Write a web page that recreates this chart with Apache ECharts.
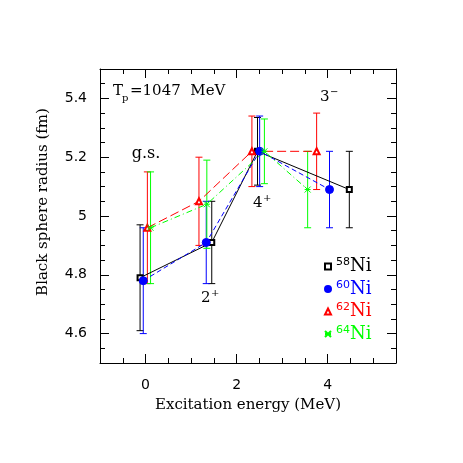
<!DOCTYPE html>
<html>
<head>
<meta charset="utf-8">
<script src="https://cdn.jsdelivr.net/npm/echarts@6/dist/echarts.min.js"></script>
<style>html,body{margin:0;padding:0;background:#fff}#c{width:463px;height:463px}</style>
</head>
<body>
<div id="c"></div>
<script>
// ---- data ----
const isotopes = ['58', '60', '62', '64'];
const states = ['g.s.', '2+', '4+', '3-'];
const ex58 = [-0.12, 1.454, 2.459, 4.475];
const r58  = [4.79, 4.91, 5.22, 5.09];
const e58  = [0.18, 0.14, 0.115, 0.13];
const ex60 = [-0.05, 1.333, 2.506, 4.040];
const r60  = [4.78, 4.91, 5.22, 5.09];
const e60  = [0.18, 0.14, 0.12, 0.13];
const ex62 = [0.04, 1.173, 2.336, 3.757];
const r62  = [4.96, 5.05, 5.22, 5.22];
const e62  = [0.19, 0.15, 0.12, 0.13];
const ex64 = [0.11, 1.346, 2.610, 3.560];
const r64  = [4.96, 5.04, 5.22, 5.09];
const e64  = [0.19, 0.15, 0.11, 0.13];
const xTickLabels = [0, 2, 4];
const yTickLabels = [4.6, 4.8, 5.0, 5.2, 5.4];

const serif = '"DejaVu Serif", serif';
const sans = '"DejaVu Sans", sans-serif';
const colors = ['#000000', '#0000ff', '#ff0000', '#00ff00'];
const exs = [ex58, ex60, ex62, ex64];
const rs = [r58, r60, r62, r64];
const es = [e58, e60, e62, e64];
const symbols = ['emptyRect', 'circle', 'emptyTriangle', 'path://M0,0L10,10M0,10L10,0M0,5L10,5'];
const symSizes = [5, 8, 6, 6];
const dashes = ['solid', [5, 3], [9, 4], [6, 3, 1, 3]];

const chart = echarts.init(document.getElementById('c'), null, {renderer: 'canvas'});

function xAxisDef(pos, major) {
  return {
    type: 'value', position: pos, min: -1, max: 5.5, interval: 0.5,
    axisLine: {show: !major, onZero: false, lineStyle: {color: '#000', width: 1}},
    axisTick: major ? {show: true, inside: true, length: 9, customValues: xTickLabels, lineStyle: {color: '#000'}}
                    : {show: true, inside: true, length: 5, lineStyle: {color: '#000'}},
    axisLabel: (pos === 'bottom' && !major) ? {show: true, customValues: xTickLabels, margin: 15, color: '#000', fontFamily: sans, fontSize: 14} : {show: false},
    splitLine: {show: false}
  };
}
function yAxisDef(pos, major) {
  return {
    type: 'value', position: pos, min: 4.5, max: 5.5, interval: 0.05,
    axisLine: {show: !major, onZero: false, lineStyle: {color: '#000', width: 1}},
    axisTick: major ? {show: true, inside: true, length: 9, customValues: yTickLabels, lineStyle: {color: '#000'}}
                    : {show: true, inside: true, length: 5, lineStyle: {color: '#000'}},
    axisLabel: (pos === 'left' && !major) ? {show: true, customValues: yTickLabels, margin: 13, color: '#000', fontFamily: sans, fontSize: 14,
                formatter: v => String(+(+v).toFixed(2))} : {show: false},
    splitLine: {show: false}
  };
}

const series = [];
isotopes.forEach((iso, i) => {
  const errData = exs[i].map((x, k) => [x, rs[i][k] - es[i][k], rs[i][k] + es[i][k]]);
  series.push({
    type: 'custom', name: iso + 'Ni_err', z: 2, silent: true,
    data: errData, encode: {x: 0, y: [1, 2]},
    renderItem: (params, api) => {
      const x = api.value(0), lo = api.value(1), hi = api.value(2);
      const pt = api.coord([x, hi]), pb = api.coord([x, lo]);
      const w = 3.5;
      const st = {stroke: colors[i], lineWidth: 1, fill: null};
      return {type: 'group', children: [
        {type: 'line', shape: {x1: pt[0], y1: pt[1], x2: pb[0], y2: pb[1]}, style: st},
        {type: 'line', shape: {x1: pt[0] - w, y1: pt[1], x2: pt[0] + w, y2: pt[1]}, style: st},
        {type: 'line', shape: {x1: pb[0] - w, y1: pb[1], x2: pb[0] + w, y2: pb[1]}, style: st}
      ]};
    }
  });
  series.push({
    type: 'line', name: iso + 'Ni', z: 3,
    data: exs[i].map((x, k) => [x, rs[i][k]]),
    symbol: symbols[i], symbolSize: symSizes[i], showAllSymbol: true,
    lineStyle: {color: colors[i], width: 1, type: dashes[i]},
    itemStyle: {color: colors[i], borderColor: colors[i], borderWidth: 1},
    emphasis: {disabled: true},
    animation: false
  });
});

const legendData = isotopes.map((iso, i) => ({
  name: iso + 'Ni',
  icon: symbols[i],
  textStyle: {color: colors[i]}
}));

const option = {
  animation: false,
  backgroundColor: '#fff',
  grid: {left: 100, right: 67, top: 69, bottom: 100, containLabel: false},
  xAxis: [xAxisDef('bottom', false), xAxisDef('bottom', true), xAxisDef('top', false), xAxisDef('top', true)],
  yAxis: [yAxisDef('left', false), yAxisDef('left', true), yAxisDef('right', false), yAxisDef('right', true)],
  legend: {
    orient: 'vertical', left: 319, top: 252, itemWidth: 6, itemHeight: 6, itemGap: 4,
    selectedMode: false,
    data: legendData,
    formatter: name => '{s|' + name.slice(0, 2) + '}{n|Ni}',
    textStyle: {
      fontFamily: serif, fontSize: 18,
      rich: {
        s: {fontFamily: sans, fontSize: 11, verticalAlign: 'top', lineHeight: 19},
        n: {fontFamily: serif, fontSize: 18, lineHeight: 19}
      }
    }
  },
  graphic: [
    {type: 'text', x: 43, y: 202, rotation: Math.PI / 2, style: {text: 'Black sphere radius (fm)', font: '15px ' + serif, fill: '#000', align: 'center', verticalAlign: 'middle'}},
    {type: 'text', x: 248, y: 405, style: {text: 'Excitation energy (MeV)', font: '15px ' + serif, fill: '#000', align: 'center', verticalAlign: 'middle'}},
    {type: 'text', x: 113, y: 91, style: {text: 'T', font: '15px ' + serif, fill: '#000', align: 'left', verticalAlign: 'middle'}},
    {type: 'text', x: 122, y: 98, style: {text: 'p', font: '10px ' + serif, fill: '#000', align: 'left', verticalAlign: 'middle'}},
    {type: 'text', x: 130, y: 91, style: {text: '=1047  MeV', font: '15px ' + serif, fill: '#000', align: 'left', verticalAlign: 'middle'}},
    {type: 'text', x: 146, y: 154, style: {text: 'g.s.', font: '16px ' + serif, fill: '#000', align: 'center', verticalAlign: 'middle'}},
    {type: 'text', x: 201, y: 298, style: {text: '2', font: '15px ' + serif, fill: '#000', align: 'left', verticalAlign: 'middle'}},
    {type: 'text', x: 211, y: 293, style: {text: '+', font: '10px ' + serif, fill: '#000', align: 'left', verticalAlign: 'middle'}},
    {type: 'text', x: 253, y: 203, style: {text: '4', font: '15px ' + serif, fill: '#000', align: 'left', verticalAlign: 'middle'}},
    {type: 'text', x: 263, y: 198, style: {text: '+', font: '10px ' + serif, fill: '#000', align: 'left', verticalAlign: 'middle'}},
    {type: 'text', x: 320, y: 97, style: {text: '3', font: '15px ' + serif, fill: '#000', align: 'left', verticalAlign: 'middle'}},
    {type: 'text', x: 330, y: 92, style: {text: '\u2212', font: '10px ' + serif, fill: '#000', align: 'left', verticalAlign: 'middle'}}
  ],
  series: series
};
chart.setOption(option);
</script>
</body>
</html>
